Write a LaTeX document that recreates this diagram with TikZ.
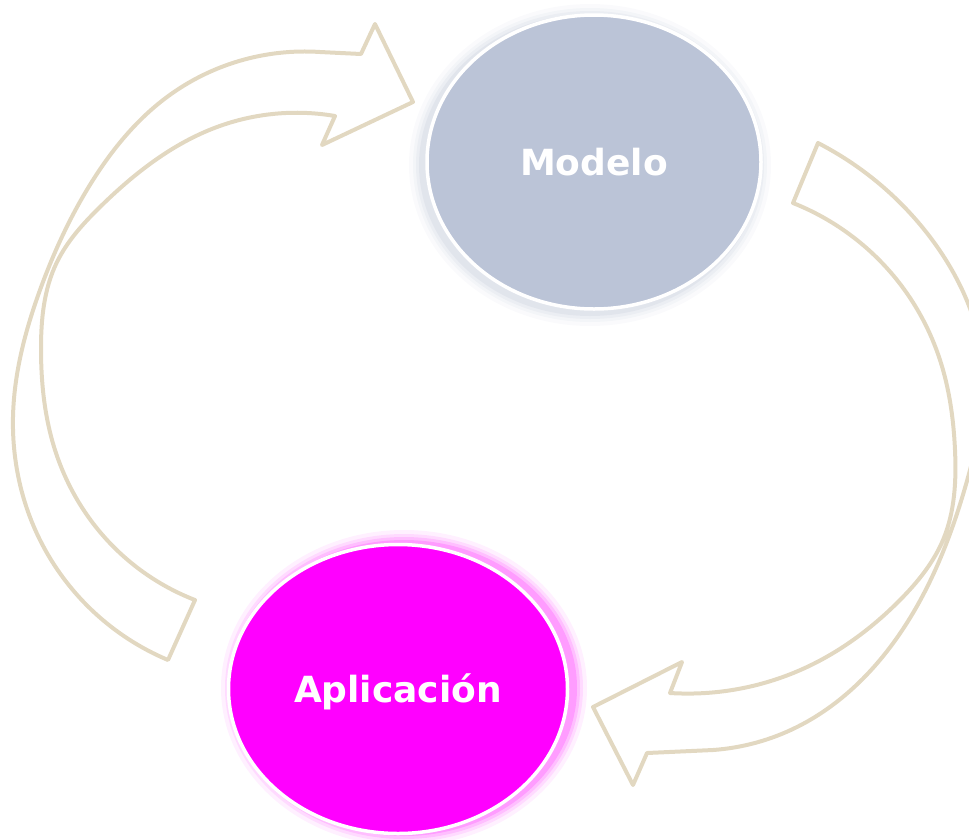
\documentclass[tikz,border=0pt]{standalone}
\usepackage{fontspec}
\setmainfont{DejaVu Sans}
\usetikzlibrary{shapes.geometric,hobby}
\definecolor{arrowline}{HTML}{E2D8C1}
\definecolor{modelofill}{HTML}{BBC4D7}
\definecolor{modeloshadow}{HTML}{9AA6C0}
\definecolor{appfill}{HTML}{FF00FF}
\tikzset{
  arrowshape/.style={draw=arrowline, line width=4pt, line join=round, line cap=round},
  bubble/.style={ellipse, draw=white, line width=3.5pt, inner sep=0pt,
    text=white, font=\bfseries\fontsize{36}{43}\selectfont,
    text height=26pt, text depth=0pt},
}
\begin{document}
\begin{tikzpicture}[x=1pt,y=-1pt]
\useasboundingbox (0,0) rectangle (969,839);
\clip (0,0) rectangle (969,839);

% left arrow (towards Modelo)
\draw[arrowshape]
  (168,660) to[curve through={(40,540) .. (13,417) .. (40,290) .. (93,180) .. (167,97)}] (320,52)
  -- (361,54) -- (375,24) -- (413,102) -- (322,145) -- (335,116)
  to[curve through={(217,127) .. (100,207) .. (57,262) .. (41,350) .. (55,450) .. (107,540)}] (195,600)
  -- cycle;

% right arrow (towards Aplicacion)
\draw[arrowshape]
  (818,143) to[curve through={(930,237) .. (984,380) .. (970,470) .. (913,613) .. (797,727)}] (713,750)
  -- (647,753) -- (633,785) -- (593,707) -- (682,662) -- (670,693)
  to[curve through={(807,667) .. (900,600) .. (943,540) .. (955,450) .. (940,360) .. (897,280)}] (793,203)
  -- cycle;

% shadow of Modelo
\foreach \s/\o in {12/0.05,8/0.07,5/0.09,2/0.12}{
  \fill[modeloshadow, opacity=\o] (590,165) ellipse ({169+\s} and {149+\s});
}
% glow of Aplicacion
\foreach \s/\o in {12/0.06,8/0.09,5/0.13,2/0.18}{
  \fill[appfill, opacity=\o] (404,688) ellipse ({171+\s} and {146+\s});
}

\node[bubble, fill=modelofill, minimum width=334pt, minimum height=294pt] (modelo) at (594,162) {Modelo};
\node[bubble, fill=appfill, minimum width=339pt, minimum height=289pt] (app) at (398,689) {Aplicación};
\end{tikzpicture}
\end{document}
